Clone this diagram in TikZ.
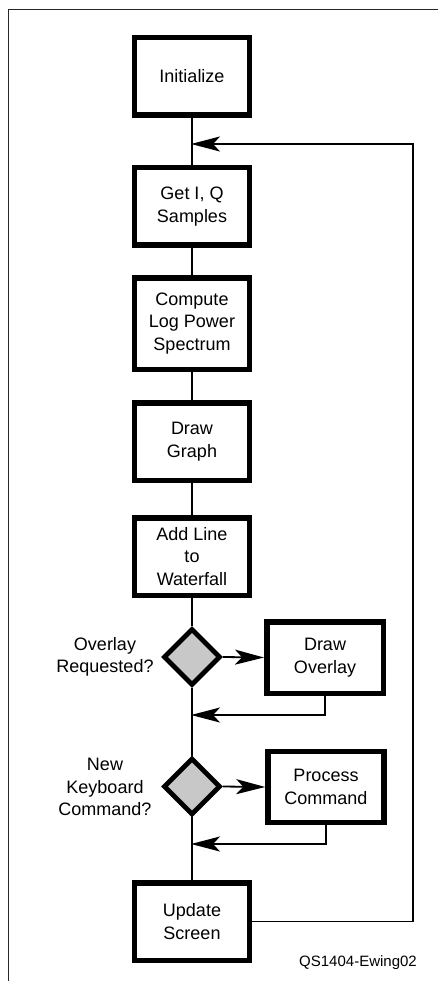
\documentclass[tikz,border=0pt]{standalone}
\usepackage{fontspec}
\setmainfont{Liberation Sans}
\usetikzlibrary{shapes.geometric,arrows.meta}
\definecolor{dgray}{HTML}{C8C8C8}
\tikzset{
  box/.style={draw, line width=5.5pt, rectangle, minimum width=115pt, align=center, inner sep=0pt,
    font=\fontsize{18}{22.6}\selectfont},
  dec/.style={draw, line width=4.7pt, diamond, fill=dgray, minimum width=57pt, minimum height=57pt, inner sep=0pt},
  lbl/.style={align=center, font=\fontsize{18}{22.6}\selectfont, inner sep=0pt},
  conn/.style={line width=1.8pt},
  arr/.style={line width=1.8pt, -{Stealth[length=29pt,width=15pt,inset=7pt]}},
  frame/.style={line width=1.2pt, draw=black!85}
}
\begin{document}
\begin{tikzpicture}[x=1pt,y=-1pt]
\useasboundingbox (0,0) rectangle (438,981);
% frame
\draw[frame] (8.5,981) -- (8.5,9.5) -- (438,9.5);
% boxes
\node[box, minimum height=77.5pt] (init) at (192,76.5) {Initialize};
\node[box, minimum height=77.5pt] (getiq) at (192,206.5) {Get I, Q\\Samples};
\node[box, minimum height=91.5pt] (comp) at (192,323.5) {Compute\\Log Power\\Spectrum};
\node[box, minimum height=77.5pt] (graph) at (192,441.5) {Draw\\Graph};
\node[box, minimum height=77.5pt] (addl) at (192,556.5) {Add Line\\to\\Waterfall};
\node[dec] (d1) at (192,657) {};
\node[box, minimum width=116.5pt, minimum height=71.5pt] (ovl) at (325,657.5) {Draw\\Overlay};
\node[dec] (d2) at (192,786.5) {};
\node[box, minimum width=116pt, minimum height=71pt] (proc) at (326,787) {Process\\Command};
\node[box, minimum height=77.5pt] (upd) at (192,921.5) {Update\\Screen};
% labels
\node[lbl] (l1) at (105,657) {Overlay\\Requested?};
\node[lbl] (l2) at (105,787) {New\\Keyboard\\Command?};
\node[anchor=base east, inner sep=0pt, font=\fontsize{15}{18}\selectfont] (cap) at (417,966.5) {QS1404-Ewing02};
% junctions
\coordinate (j0) at (191,144);
\coordinate (j1) at (191,715);
\coordinate (j2) at (191,844);
\coordinate (rt) at (413,921.5);
\coordinate (rtop) at (413,144);
% connectors
\draw[conn] (init.south) -- (getiq.north);
\draw[conn] (getiq.south) -- (comp.north);
\draw[conn] (comp.south) -- (graph.north);
\draw[conn] (graph.south) -- (addl.north);
\draw[conn] (addl.south) -- (d1.north);
\draw[arr] (d1.east) -- (ovl.west);
\draw[arr] (ovl.south) -- (ovl.south |- j1) -- (j1);
\draw[conn] (d1.south) -- (d2.north);
\draw[arr] (d2.east) -- (proc.west);
\draw[arr] (proc.south) -- (proc.south |- j2) -- (j2);
\draw[conn] (d2.south) -- (upd.north);
\draw[arr] (upd.east) -- (rt) -- (rtop) -- (j0);
\end{tikzpicture}
\end{document}
